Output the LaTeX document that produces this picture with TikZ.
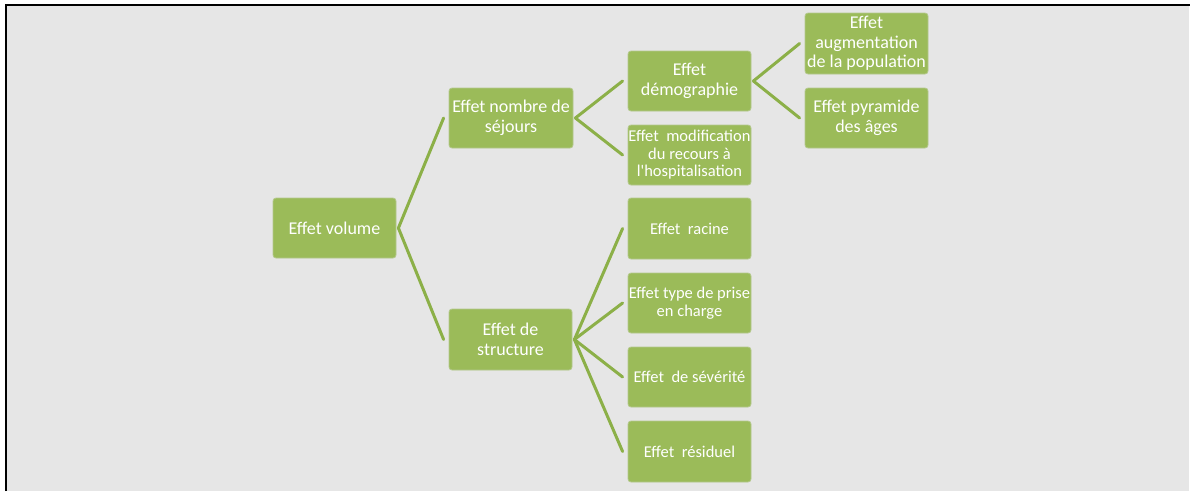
\documentclass[tikz,border=0pt]{standalone}
\usepackage{fontspec}
\setmainfont{Carlito}
\definecolor{bggray}{RGB}{230,230,230}
\definecolor{nodegreen}{RGB}{155,187,89}
\definecolor{nodeedge}{RGB}{180,200,140}
\definecolor{conngreen}{RGB}{140,176,72}
\tikzset{
  box/.style={rectangle, rounded corners=3pt, fill=nodegreen, draw=nodeedge, line width=0.8pt,
    minimum width=123pt, minimum height=60pt, inner sep=0pt, align=center, text=white,
    font=\fontsize{18}{19.5}\selectfont},
  smallbox/.style={box, font=\fontsize{16.5}{17.5}\selectfont},
  conn/.style={draw=conngreen, line width=3pt, line cap=round}
}
\begin{document}
\begin{tikzpicture}[x=1pt,y=-1pt]
\useasboundingbox (0,0) rectangle (1190,491);
\fill[white] (0,0) rectangle (1190,491);
\fill[bggray] (5,4) rectangle (1189,491);
\draw[black, line width=2pt] (6,491) -- (6,5) -- (1190,5);

\node[box] (vol) at (334.5,228) {Effet volume};
\node[box, minimum width=124pt] (nom) at (511,118) {Effet nombre de\\séjours};
\node[box, minimum height=61pt] (str) at (510.5,339.5) {Effet de\\structure};
\node[box] (dem) at (689.5,81) {Effet\\démographie};
\node[smallbox] (mod) at (689.5,155) {Effet\ \ modification\\du recours à\\l\textquotesingle hospitalisation};
\node[box, minimum height=61pt] (aug) at (866.5,43.5) {Effet\\augmentation\\de la population};
\node[box] (pyr) at (866.5,118) {Effet pyramide\\des âges};
\node[smallbox, minimum height=61pt] (rac) at (689.5,228.5) {Effet\ \ racine};
\node[smallbox] (typ) at (689.5,303) {Effet\ type de prise\\en charge};
\node[smallbox] (sev) at (689.5,377) {Effet\ \ de sévérité};
\node[smallbox, minimum height=61pt] (res) at (689.5,451.5) {Effet\ \ résiduel};

\draw[conn] ([xshift=2pt]vol.east) -- ([xshift=-5pt]nom.west);
\draw[conn] ([xshift=2pt]vol.east) -- ([xshift=-5pt]str.west);
\draw[conn] ([xshift=2pt]nom.east) -- ([xshift=-5pt]dem.west);
\draw[conn] ([xshift=2pt]nom.east) -- ([xshift=-5pt]mod.west);
\draw[conn] ([xshift=2pt]dem.east) -- ([xshift=-5pt]aug.west);
\draw[conn] ([xshift=2pt]dem.east) -- ([xshift=-5pt]pyr.west);
\draw[conn] ([xshift=2pt]str.east) -- ([xshift=-5pt]rac.west);
\draw[conn] ([xshift=2pt]str.east) -- ([xshift=-5pt]typ.west);
\draw[conn] ([xshift=2pt]str.east) -- ([xshift=-5pt]sev.west);
\draw[conn] ([xshift=2pt]str.east) -- ([xshift=-5pt]res.west);
\end{tikzpicture}
\end{document}
